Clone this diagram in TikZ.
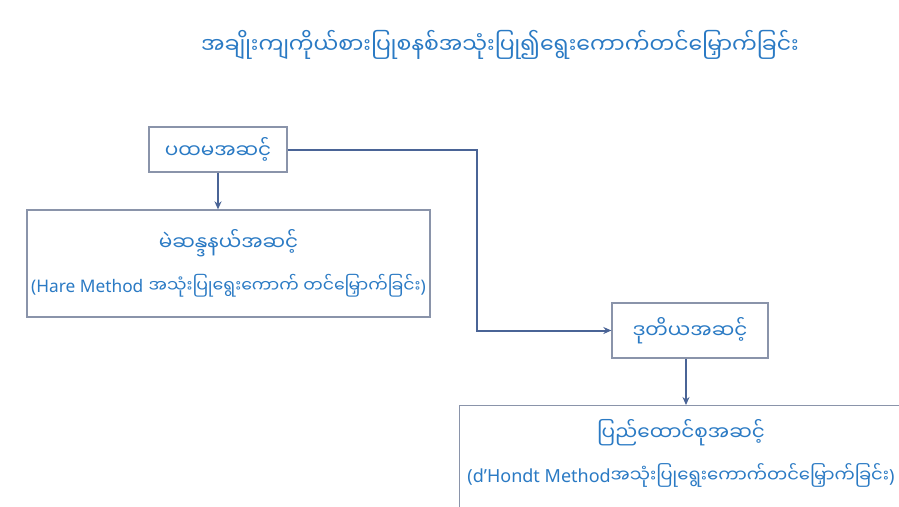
\documentclass[tikz,border=0pt]{standalone}
\usepackage{fontspec}
\newfontfamily\mmfont[Script=Myanmar]{Noto Sans Myanmar UI}
\newfontfamily\latfont{Noto Sans}
\usetikzlibrary{arrows.meta}
\definecolor{txtblue}{HTML}{2A7AC4}
\definecolor{boxline}{HTML}{8A94AA}
\definecolor{conn}{HTML}{4A6496}
\newcommand{\headsize}{\fontsize{20}{42}\selectfont}
\newcommand{\subsize}{\fontsize{17.3}{42}\selectfont}
\tikzset{
  stagebox/.style={draw=boxline, line width=1.3pt, fill=white, inner sep=0pt, text=txtblue, font=\mmfont\headsize, align=center},
  stagetext/.style={inner sep=0pt, text=txtblue, font=\mmfont\headsize, align=center},
  link/.style={draw=conn, line width=2pt, -{Stealth[length=8pt,width=7pt]}},
}
\begin{document}
\begin{tikzpicture}[x=1pt,y=-1pt]
\useasboundingbox (0,0) rectangle (899,506);
\clip (0,0) rectangle (899,506);
\fill[white] (0,0) rectangle (899,506);
\node[text=txtblue, font=\mmfont\fontsize{22}{26}\selectfont] (title) at (500,45) {အချိုးကျကိုယ်စားပြုစနစ်အသုံးပြု၍ရွေးကောက်တင်မြှောက်ခြင်း};
\node[stagebox, minimum width=138pt, minimum height=45pt] (s1) at (218,149.5) {ပထမအဆင့်};
\node[stagebox, minimum width=403pt, minimum height=107pt] (s2) at (228.5,263.5) {မဲဆန္ဒနယ်အဆင့်\\{\subsize\latfont (Hare Method} {\subsize အသုံးပြုရွေးကောက် တင်မြှောက်ခြင်း}{\subsize\latfont )}};
\node[stagebox, minimum width=156pt, minimum height=55pt] (s3) at (690,330.5) {ဒုတိယအဆင့်};
\node[stagebox, minimum width=444pt, minimum height=112pt, anchor=north west] (s4) at (459,405) {};
\node[stagetext] (s4text) at (681,453.5) {ပြည်ထောင်စုအဆင့်\\{\fontsize{18}{42}\selectfont{\latfont (d’Hondt Method}အသုံးပြုရွေးကောက်တင်မြှောက်ခြင်း{\latfont )}}};
\coordinate (bend1) at (477,149.5);
\coordinate (bend2) at (477,330.5);
\draw[link] (s1.south) -- (s1.south |- s2.north);
\draw[link] (s1.east) -- (bend1) -- (bend2) -- (s3.west);
\draw[link] (s3.south -| 686,0) -- (s4.north -| 686,0);
\end{tikzpicture}
\end{document}
